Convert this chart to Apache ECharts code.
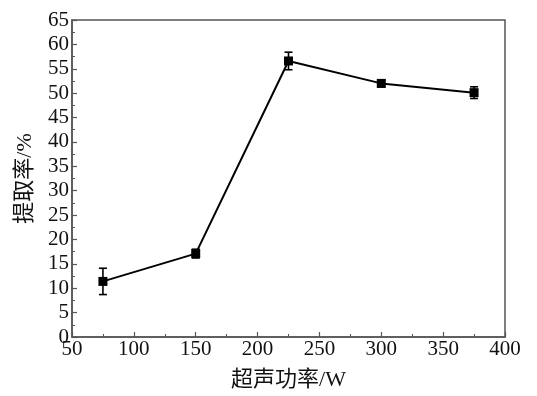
<!DOCTYPE html>
<html lang="zh">
<head>
    <meta charset="UTF-8">
    <title>超声功率与提取率</title>
    <script src="https://cdn.jsdelivr.net/npm/echarts@6/dist/echarts.min.js"></script>
    <style>
        html, body {margin: 0; padding: 0; background: #fff;}
    </style>
</head>
<body>
<div id="main" style="width: 537px;height: 396px"></div>
<script type="text/javascript">
    // 数据
    var power = [75, 150, 225, 300, 375];
    var rate = [11.4, 17.1, 56.6, 52.0, 50.1];
    var rateErr = [2.7, 0.9, 1.8, 0.7, 1.2];
    var xTicks = [50, 100, 150, 200, 250, 300, 350, 400];
    var yTicks = [0, 5, 10, 15, 20, 25, 30, 35, 40, 45, 50, 55, 60, 65];

    var font = '"Liberation Serif", "Noto Sans CJK SC", serif';
    var axisColor = '#555';

    var points = power.map(function (p, i) { return [p, rate[i]]; });
    var errData = power.map(function (p, i) { return [p, rate[i] - rateErr[i], rate[i] + rateErr[i]]; });

    var myChart = echarts.init(document.getElementById('main'));

    function axisCommon(ticks) {
        return {
            min: ticks[0],
            max: ticks[ticks.length - 1],
            interval: ticks[1] - ticks[0],
            axisLine: {show: true, lineStyle: {color: axisColor, width: 1.5}},
            axisTick: {show: true, inside: true, length: 5, lineStyle: {color: axisColor, width: 1.2}},
            minorTick: {show: true, splitNumber: 2, length: 3, lineStyle: {color: axisColor, width: 1}},
            splitLine: {show: false},
            axisLabel: {color: '#111', fontFamily: font, fontSize: 21},
            nameTextStyle: {color: '#111', fontFamily: font, fontSize: 22}
        };
    }

    var xAxis = axisCommon(xTicks);
    xAxis.type = 'value';
    xAxis.name = '超声功率/W';
    xAxis.nameLocation = 'middle';
    xAxis.nameGap = 32;
    xAxis.axisLabel.margin = 2;

    var yAxis = axisCommon(yTicks);
    yAxis.type = 'value';
    yAxis.name = '提取率/%';
    yAxis.nameLocation = 'middle';
    yAxis.nameGap = 36;
    yAxis.nameRotate = 90;
    yAxis.axisLabel.margin = 3;

    var option = {
        animation: false,
        grid: {
            left: 72, right: 32, top: 20, bottom: 57,
            show: true, borderColor: axisColor, borderWidth: 1.5,
            backgroundColor: 'transparent'
        },
        xAxis: xAxis,
        yAxis: yAxis,
        series: [
            {
                type: 'custom',
                data: errData,
                z: 3,
                renderItem: function (params, api) {
                    var x = api.value(0);
                    var lo = api.coord([x, api.value(1)]);
                    var hi = api.coord([x, api.value(2)]);
                    var cap = 4;
                    var style = {stroke: '#000', lineWidth: 1.6};
                    return {
                        type: 'group',
                        children: [
                            {type: 'line', shape: {x1: lo[0], y1: lo[1], x2: hi[0], y2: hi[1]}, style: style},
                            {type: 'line', shape: {x1: lo[0] - cap, y1: lo[1], x2: lo[0] + cap, y2: lo[1]}, style: style},
                            {type: 'line', shape: {x1: hi[0] - cap, y1: hi[1], x2: hi[0] + cap, y2: hi[1]}, style: style}
                        ]
                    };
                }
            },
            {
                type: 'line',
                data: points,
                z: 4,
                symbol: 'rect',
                symbolSize: 9,
                itemStyle: {color: '#000'},
                lineStyle: {color: '#000', width: 2}
            }
        ]
    };

    myChart.setOption(option);
</script>
</body>
</html>
